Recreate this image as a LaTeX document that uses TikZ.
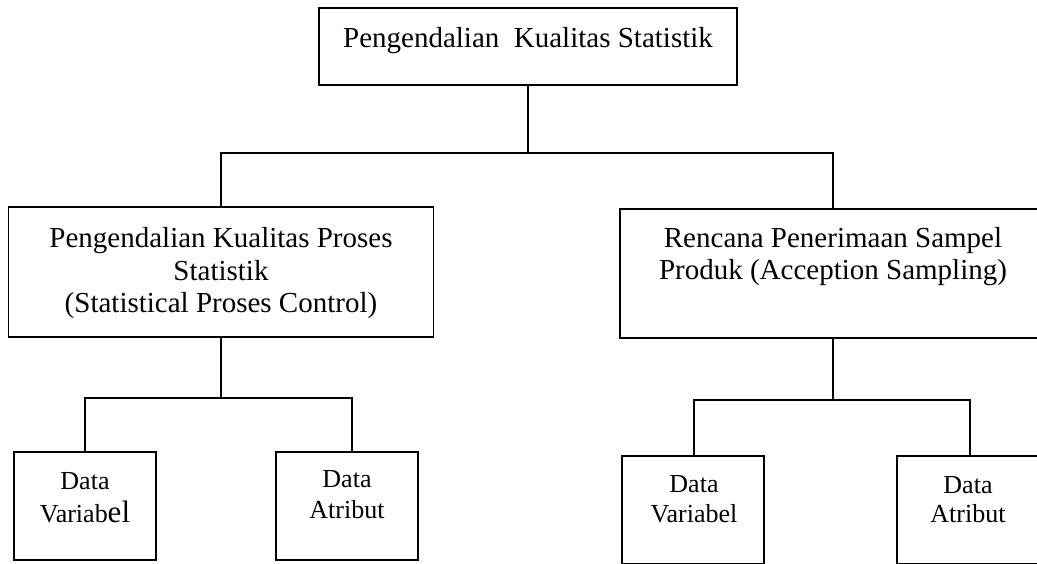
\documentclass[tikz,border=0pt]{standalone}
\usepackage{fontspec}
\setmainfont{Liberation Serif}
\usetikzlibrary{positioning,calc}

\tikzset{
  box/.style={draw, line width=1.6pt, inner sep=0pt},
  lbl/.style={align=center, inner sep=0pt, anchor=base},
  conn/.style={line width=1.3pt}
}

\begin{document}
\begin{tikzpicture}[x=1pt,y=1pt]

% Page frame
\useasboundingbox (0,0) rectangle (1037,563);
\clip (0,0) rectangle (1037,563);

% Boxes of the chart
\node[box, minimum width=418pt, minimum height=77pt]  (top)  at (528,516.5) {};
\node[box, minimum width=425pt, minimum height=130pt] (spc)  at (221,291)   {};
\node[box, minimum width=426pt, minimum height=129pt] (acc)  at (833,289.5) {};
\node[box, minimum width=142pt, minimum height=108pt] (spcV) at (85,57)    {};
\node[box, minimum width=142pt, minimum height=108pt] (spcA) at (347,57)   {};
\node[box, minimum width=142pt, minimum height=108pt] (accV) at (693,53)   {};
\node[box, minimum width=142pt, minimum height=108pt] (accA) at (968,53)   {};

% Texts of the boxes (base = baseline of the last line)
\node[lbl, font=\fontsize{29}{32.5}\selectfont] (topT) at (528,515)
  {Pengendalian\ \ Kualitas Statistik};
\node[lbl, font=\fontsize{29}{32.5}\selectfont] (spcT) at (221,250)
  {Pengendalian Kualitas Proses\\Statistik\\(Statistical Proses Control)};
\node[lbl, font=\fontsize{29}{32}\selectfont] (accT) at (833,283)
  {Rencana Penerimaan Sampel\\Produk (Acception Sampling)};
\node[lbl, font=\fontsize{26}{33}\selectfont] (spcVT) at (85,41)
  {Data\\Variab{\fontsize{31}{33}\selectfont el}};
\node[lbl, font=\fontsize{26}{31}\selectfont] (spcAT) at (347,45)
  {Data\\Atribut};
\node[lbl, font=\fontsize{26}{30}\selectfont] (accVT) at (694,41)
  {Data\\Variabel};
\node[lbl, font=\fontsize{26}{29}\selectfont] (accAT) at (968,41)
  {Data\\Atribut};

% Bus lines between the levels
\coordinate (topBus) at (528,410);
\coordinate (spcBus) at (221,165);
\coordinate (accBus) at (833,163);

% Connectors
\draw[conn] (top.south) -- (topBus);
\draw[conn] (spc.north) |- (topBus) -| (acc.north);
\draw[conn] (spc.south) -- (spcBus);
\draw[conn] (spcV.north) |- (spcBus) -| ([xshift=5pt]spcA.north);
\draw[conn] (acc.south) -- (accBus);
\draw[conn] ([xshift=1pt]accV.north) |- (accBus) -| ([xshift=2pt]accA.north);

\end{tikzpicture}
\end{document}
